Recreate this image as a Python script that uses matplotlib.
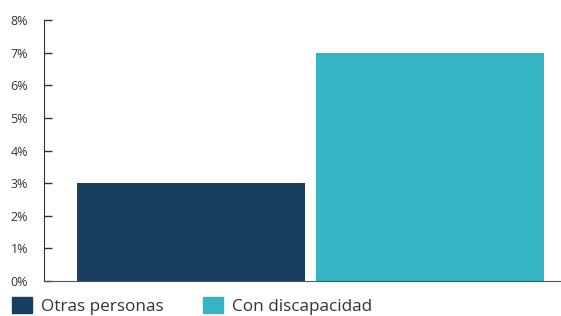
import matplotlib.pyplot as plt
from matplotlib.patches import Patch
from matplotlib.ticker import PercentFormatter

categories = ['Otras personas', 'Con discapacidad']
values = [3.0, 7.0]
colors = ['#183f5f', '#35b5c4']
yticks = [0, 1, 2, 3, 4, 5, 6, 7, 8]

plt.rcParams['font.family'] = ['Open Sans', 'DejaVu Sans']

fig = plt.figure(figsize=(5.61, 3.16), dpi=100)
ax = fig.add_axes([44 / 561, 1 - 281 / 316, 1 - 44 / 561, (281 - 20) / 316])

x = list(range(len(categories)))
ax.bar(x, values, width=0.956, color=colors)

ax.set_xlim(-0.616, 1.551)
ax.set_ylim(0, 8)
ax.set_yticks(yticks)
ax.yaxis.set_major_formatter(PercentFormatter(decimals=0))
ax.set_xticks([])

ax.spines['top'].set_visible(False)
ax.spines['right'].set_visible(False)
ax.spines['left'].set_color('#333333')
ax.spines['bottom'].set_color('#555555')
ax.tick_params(axis='y', direction='in', length=5.5, width=1, color='#333333',
               labelsize=9, labelcolor='#333333', pad=11.5)

handles = [Patch(color=c, label=l) for c, l in zip(colors, categories)]
fig.legend(handles=handles, loc='center left', bbox_to_anchor=(12 / 561, 1 - 306 / 316),
           ncol=2, frameon=False, fontsize=12.3, handlelength=1.17, handleheight=1.05,
           handletextpad=0.53, columnspacing=2.28, borderaxespad=0, borderpad=0,
           labelcolor='#333333')

fig.savefig('out.png', dpi=100)
